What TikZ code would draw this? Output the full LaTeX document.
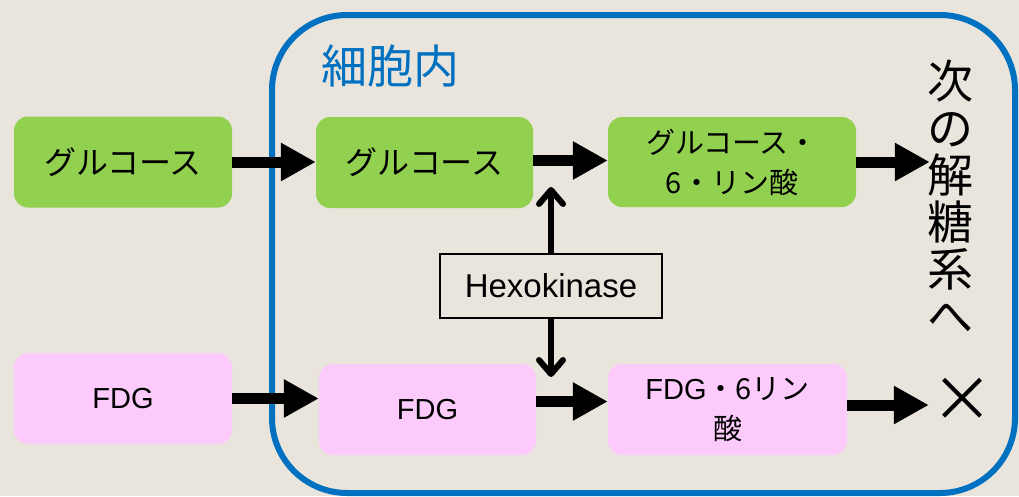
\documentclass[tikz,border=0pt]{standalone}
\usepackage{fontspec}
\setmainfont{Liberation Sans}
\newfontfamily\jp{Noto Sans CJK JP}
\usetikzlibrary{arrows.meta,calc}
\definecolor{bg}{RGB}{233,229,220}
\definecolor{cellblue}{RGB}{0,112,192}
\definecolor{glu}{RGB}{146,208,80}
\definecolor{fdg}{RGB}{252,203,252}

\begin{document}
\begin{tikzpicture}[x=1pt,y=-1pt,
  box/.style={rounded corners=14pt, inner sep=0pt, align=center, text=black,
    minimum height=91pt},
  glubox/.style={box, fill=glu},
  fdgbox/.style={box, fill=fdg},
  fat/.style={line width=11pt, -{Triangle[length=35pt,width=36pt]}},
  enzarrow/.style={line width=6pt, -{Straight Barb[length=14pt,width=24pt,round]}},
]
% page background and frame
\fill[bg] (0,0) rectangle (1019,496);
\useasboundingbox (0,0) rectangle (1019,496);

% cell membrane
\draw[cellblue, line width=6pt, rounded corners=75pt] (272,15) rectangle (1015,493);
\node[text=cellblue, inner sep=0pt, font=\jp\fontsize{46}{50}\selectfont] (cell) at (390,66) {細胞内};

% glucose pathway
\node[glubox, minimum width=218pt, font=\jp\fontsize{32}{36}\selectfont] (gout) at (123,162) {グルコース};
\node[glubox, minimum width=217pt, font=\jp\fontsize{32}{36}\selectfont] (gin) at (424.5,162.5) {グルコース};
\node[glubox, minimum width=248pt, minimum height=90pt, font=\jp\fontsize{29}{40}\selectfont] (g6p) at (732,162) {グルコース・\\6・リン酸};
\node[inner sep=0pt, align=center, font=\jp\fontsize{46}{47}\selectfont] (next) at (950,197) {次\\の\\解\\糖\\系\\へ};

% FDG pathway
\node[fdgbox, minimum width=218pt, font=\fontsize{29}{36}\selectfont] (fout) at (123,398.5) {FDG};
\node[fdgbox, minimum width=217pt, font=\fontsize{29}{36}\selectfont] (fin) at (427.5,409.5) {FDG};
\node[fdgbox, minimum width=239pt, font=\fontsize{29}{40}\selectfont] (f6p) at (727.5,409.5) {FDG{\jp ・6リン}\\{\jp 酸}};
\node[inner sep=0pt, font=\jp\fontsize{62}{62}\selectfont] (cross) at (962,400) {×};

% enzyme
\node[draw=black, line width=1.5pt, fill=bg, minimum width=222pt, minimum height=64pt,
  inner sep=0pt, font=\fontsize{33}{36}\selectfont] (hk) at (551,286) {Hexokinase};
\coordinate (uptip) at (551,187);
\coordinate (dntip) at (551,377);

% transport and phosphorylation arrows
\draw[fat] (gout) -- (gout -| gin.west);
\draw[fat] ([yshift=2pt]gin.east) -- ([yshift=2pt]gin.east -| g6p.west);
\draw[fat, shorten >=-3pt] (g6p.east) -- (g6p.east -| next.west);
\draw[fat] (fout) -- (fout -| fin.west);
\draw[fat] ([yshift=8pt]fin.east) -- ([yshift=8pt]fin.east -| f6p.west);
\draw[fat, shorten >=2pt] ([yshift=4.5pt]f6p.east) -- ([yshift=4.5pt]f6p.east -| cross.west);
\draw[enzarrow] (hk.north) -- (uptip);
\draw[enzarrow] (hk.south) -- (dntip);
\end{tikzpicture}
\end{document}
